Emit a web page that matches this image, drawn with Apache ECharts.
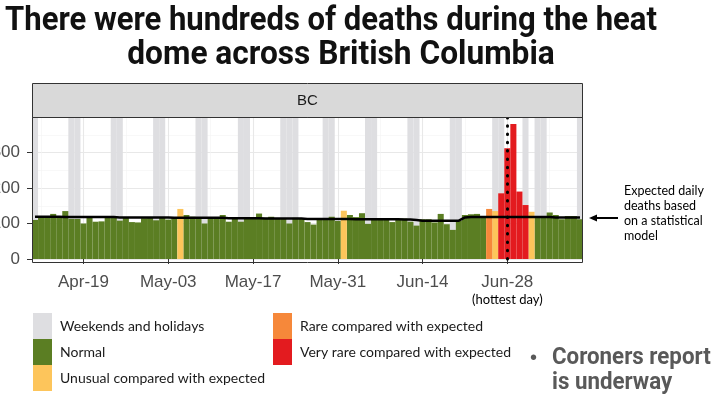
<!DOCTYPE html>
<html>
<head>
<meta charset="utf-8">
<script src="https://cdn.jsdelivr.net/npm/echarts@6/dist/echarts.min.js"></script>
<style>
  html, body { margin: 0; padding: 0; background: #fff; }
  #chart { width: 716px; height: 403px; }
</style>
</head>
<body>
<div id="chart"></div>
<script>
// daily deaths in BC, Apr 11 - Jul 10 2021
var deaths = [
  110, 118, 119, 127, 120, 135, 113, 113, 100, 117,
  105, 106, 116, 116, 108, 117, 104, 103, 115, 116,
  109, 116, 111, 118, 141, 124, 119, 116, 100, 116,
  117, 124, 105, 116, 105, 115, 116, 128, 116, 119,
  115, 114, 100, 116, 114, 104, 97, 113, 114, 119, 107,
  136, 124, 118, 129, 99, 114, 115, 114, 104, 113,
  114, 105, 94, 112, 112, 103, 127, 98, 82, 107,
  124, 126, 127, 118, 141, 135, 185, 312, 380, 190,
  152, 133, 117, 117, 131, 124, 112, 121, 121, 112
];
// expected daily deaths from the model
var expected = [
  119, 119, 119, 119, 119, 118, 118, 118, 118, 118,
  118, 118, 118, 118, 117, 117, 117, 117, 117, 117,
  117, 117, 117, 116, 116, 116, 116, 116, 116, 116,
  116, 116, 115, 115, 115, 115, 115, 115, 114, 114,
  114, 114, 114, 114, 114, 113, 113, 113, 113, 113, 113,
  113, 113, 112, 112, 112, 112, 112, 112, 112, 112,
  111, 111, 110, 108, 108, 108, 108, 108, 108, 108,
  117, 118, 118, 118, 118, 118, 118, 118, 118, 118,
  118, 118, 118, 118, 118, 117, 117, 117, 117, 117
];
var tickLabels = ['Apr-19', 'May-03', 'May-17', 'May-31', 'Jun-14', 'Jun-28'];
var minorBreaks = ['Apr-12', 'Apr-26', 'May-10', 'May-24', 'Jun-07', 'Jun-21', 'Jul-05'];
var holidays = ['May-24', 'Jul-01'];
var unusualDays = ['May-05', 'Jun-01', 'Jun-26', 'Jul-02'];
var rareDays = ['Jun-25'];
var veryRareDays = ['Jun-27', 'Jun-28', 'Jun-29', 'Jun-30', 'Jul-01'];
var hottestDay = 'Jun-28';
var yTicks = [0, 100, 200, 300];
var yMax = 400;

var months = ['Jan', 'Feb', 'Mar', 'Apr', 'May', 'Jun', 'Jul', 'Aug'];
var days = [], offDay = [];
for (var i = 0; i < deaths.length; i++) {
  var d = new Date(2021, 3, 11 + i);
  var nm = months[d.getMonth()] + '-' + (d.getDate() < 10 ? '0' : '') + d.getDate();
  days.push(nm);
  offDay.push(d.getDay() === 0 || d.getDay() === 6 || holidays.indexOf(nm) >= 0);
}

var colors = {
  'Normal': '#5b7e23',
  'Unusual compared with expected': '#fdc55b',
  'Rare compared with expected': '#f6883a',
  'Very rare compared with expected': '#e31b1f'
};

function level(nm) {
  if (veryRareDays.indexOf(nm) >= 0) return 'Very rare compared with expected';
  if (rareDays.indexOf(nm) >= 0) return 'Rare compared with expected';
  if (unusualDays.indexOf(nm) >= 0) return 'Unusual compared with expected';
  return 'Normal';
}

function isTick(idx, val) { return tickLabels.indexOf(val) >= 0; }

var gridLines = tickLabels.map(function (t) {
  return { xAxis: t, lineStyle: { color: '#e8e8e8', width: 1.1, type: 'solid' } };
}).concat(minorBreaks.map(function (t) {
  return { xAxis: t, lineStyle: { color: '#f3f3f3', width: 0.6, type: 'solid' } };
}));

var series = [{
  name: 'Weekends and holidays',
  type: 'bar',
  barWidth: '100%',
  barGap: '-100%',
  silent: true,
  itemStyle: { color: '#dedee1' },
  data: offDay.map(function (o) { return o ? yMax : '-'; }),
  markLine: {
    silent: true, z: 1, symbol: 'none',
    label: { show: false },
    data: gridLines
  }
}];

Object.keys(colors).forEach(function (lv) {
  series.push({
    name: lv,
    type: 'bar',
    barWidth: '100%',
    barGap: '-100%',
    silent: true,
    itemStyle: { color: colors[lv] },
    data: days.map(function (nm, i) { return level(nm) === lv ? deaths[i] : '-'; })
  });
});

series.push({
  name: 'Expected',
  type: 'line',
  data: expected,
  symbol: 'none',
  silent: true,
  z: 4,
  lineStyle: { color: '#000', width: 2.5 },
  markLine: {
    silent: true, z: 6, symbol: 'none',
    label: { show: false },
    lineStyle: { color: '#000', width: 3, type: [0.5, 7.8], cap: 'round' },
    data: [{ xAxis: hottestDay }]
  }
});

var legendText = { fontFamily: 'Lato', fontSize: 14, color: '#1a1a1a', padding: [0, 0, 0, 3] };
var titleStyle = { fontFamily: 'Roboto', fontWeight: 'bold', fontSize: 33, fill: '#111', align: 'center', verticalAlign: 'middle' };

var chart = echarts.init(document.getElementById('chart'));
chart.setOption({
  animation: false,
  backgroundColor: '#fff',
  grid: { left: 32, right: 133, top: 117, bottom: 144, outerBoundsMode: 'none', containLabel: false },
  xAxis: {
    type: 'category',
    data: days,
    offset: 4,
    axisLine: { show: false },
    axisTick: { show: true, alignWithLabel: true, length: 5, interval: isTick, lineStyle: { color: '#333' } },
    axisLabel: {
      interval: isTick,
      fontFamily: 'Liberation Sans', fontSize: 17, color: '#4d4d4d',
      margin: 10, lineHeight: 18,
      formatter: function (v) { return v === hottestDay ? v + '\n{h|(hottest day)}' : v; },
      rich: { h: { fontFamily: 'Lato', fontSize: 13, color: '#000', lineHeight: 17 } }
    },
    splitLine: { show: false }
  },
  yAxis: {
    type: 'value',
    min: 0, max: yMax, interval: 100,
    axisLine: { show: false },
    axisTick: { show: true, length: 5, customValues: yTicks, lineStyle: { color: '#333' } },
    axisLabel: { customValues: yTicks, fontFamily: 'Liberation Sans', fontSize: 17, color: '#4d4d4d', margin: 12 },
    splitLine: { lineStyle: { color: '#e8e8e8', width: 1.1 } },
    minorTick: { show: false, splitNumber: 2 },
    minorSplitLine: { show: true, lineStyle: { color: '#f3f3f3', width: 0.6 } }
  },
  legend: [{
    orient: 'vertical', left: 33, top: 313, padding: 0,
    itemWidth: 19, itemHeight: 26, itemGap: 0, icon: 'rect', selectedMode: false,
    textStyle: legendText,
    data: ['Weekends and holidays', 'Normal', 'Unusual compared with expected']
  }, {
    orient: 'vertical', left: 273, top: 313, padding: 0,
    itemWidth: 19, itemHeight: 26, itemGap: 0, icon: 'rect', selectedMode: false,
    textStyle: legendText,
    data: ['Rare compared with expected', 'Very rare compared with expected']
  }],
  graphic: [
    { type: 'text', x: 331, y: 22, z: 100, scaleX: 0.94, style: Object.assign({
      text: 'There were hundreds of deaths during the heat' }, titleStyle) },
    { type: 'text', x: 341, y: 56, z: 100, scaleX: 0.96, style: Object.assign({
      text: 'dome across British Columbia' }, titleStyle) },
    { type: 'rect', z: 100, shape: { x: 32.5, y: 83.5, width: 550, height: 34 },
      style: { fill: '#d9d9d9', stroke: '#333', lineWidth: 1 } },
    { type: 'text', x: 307.5, y: 100.5, z: 101, style: {
      text: 'BC', fontFamily: 'Liberation Sans', fontSize: 15, fill: '#1a1a1a',
      align: 'center', verticalAlign: 'middle' } },
    { type: 'rect', z: 100, shape: { x: 32.5, y: 117.5, width: 550, height: 145 },
      style: { fill: 'none', stroke: '#333', lineWidth: 1 } },
    { type: 'line', z: 100, shape: { x1: 618, y1: 218, x2: 595, y2: 218 },
      style: { stroke: '#000', lineWidth: 2 } },
    { type: 'polygon', z: 100, shape: { points: [[589, 218], [597, 214.5], [597, 221.5]] },
      style: { fill: '#000' } },
    { type: 'text', x: 624, y: 183, z: 100, style: {
      text: 'Expected daily\ndeaths based\non a statistical\nmodel',
      fontFamily: 'Lato', fontSize: 12.5, lineHeight: 15, fill: '#000' } },
    { type: 'text', x: 530, y: 358, z: 100, style: {
      text: '\u2022', fontFamily: 'Liberation Sans', fontSize: 20, fill: '#595959',
      verticalAlign: 'middle' } },
    { type: 'text', x: 552, y: 346, z: 100, scaleX: 0.97, style: {
      text: 'Coroners report\nis underway',
      fontFamily: 'Roboto', fontWeight: 'bold', fontSize: 23, lineHeight: 25,
      fill: '#595959' } }
  ],
  series: series
});
</script>
</body>
</html>
